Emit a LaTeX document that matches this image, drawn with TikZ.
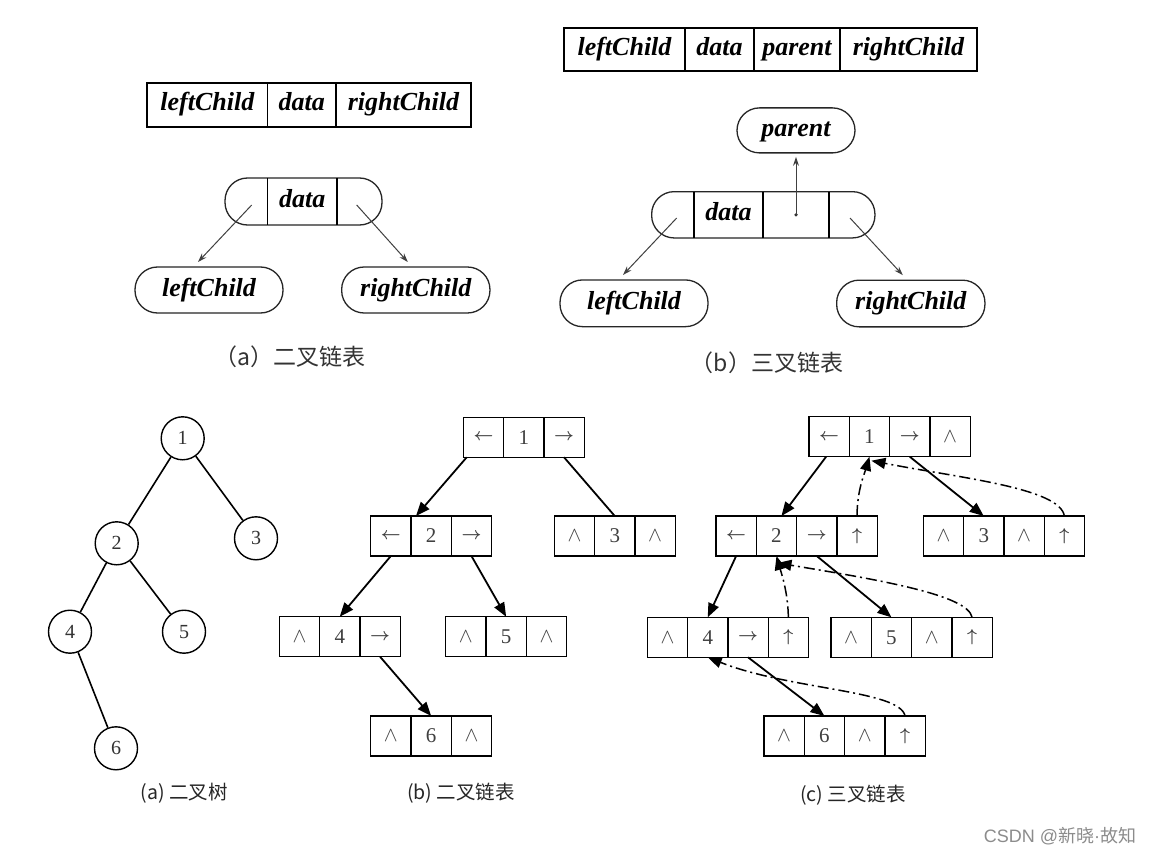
\documentclass[tikz,border=0pt]{standalone}
\usepackage{fontspec}
\setmainfont{Liberation Serif}
\newfontfamily\cjk{Noto Sans CJK SC}
\newfontfamily\wmsans{Liberation Sans}
\usetikzlibrary{arrows.meta,calc}
\newcommand\myL{{\fontsize{17.28}{17.28}\selectfont\boldmath$\leftarrow$}}
\newcommand\myR{{\fontsize{17.28}{17.28}\selectfont\boldmath$\rightarrow$}}
\newcommand\myN{$\wedge$}
\newcommand\myU{{\fontsize{17.28}{17.28}\selectfont\boldmath$\uparrow$}}
\newcommand\recIII[6]{%
  \node[cell,anchor=north west] (#1a) at (#2,#3) {#4};
  \node[cell,anchor=west] (#1b) at (#1a.east) {#5};
  \node[cell,anchor=west] (#1c) at (#1b.east) {#6};}
\newcommand\recIV[7]{%
  \node[cell,anchor=north west] (#1a) at (#2,#3) {#4};
  \node[cell,anchor=west] (#1b) at (#1a.east) {#5};
  \node[cell,anchor=west] (#1c) at (#1b.east) {#6};
  \node[cell,anchor=west] (#1d) at (#1c.east) {#7};}
\begin{document}
\begin{tikzpicture}[x=1pt,y=-1pt,
  lbl/.style={font=\fontsize{26}{28}\selectfont\bfseries\itshape, text height=18pt, text depth=6pt},
  rcell/.style={draw=black, line width=1.3pt, inner sep=0pt, outer sep=0pt, minimum height=44pt, lbl},
  pill/.style={draw=black!85, line width=1.3pt, rounded corners=22.5pt, inner sep=0pt, outer sep=0pt, lbl},
  plaincell/.style={inner sep=0pt, outer sep=0pt, lbl},
  tarr/.style={draw=black!75, line width=1pt, -{Stealth[length=9pt,width=6pt]}},
  cell/.style={draw, line width=1.4pt, minimum width=40.3pt, minimum height=40pt, inner sep=0pt, outer sep=0pt, font=\fontsize{21}{21}\selectfont, text=black!75},
  tnode/.style={circle, draw, line width=1.4pt, minimum size=43pt, inner sep=0pt, font=\fontsize{20}{20}\selectfont, text=black!80},
  tedge/.style={line width=1.6pt},
  ledge/.style={line width=1.8pt},
  parr/.style={line width=1.8pt, -{Triangle[length=14pt,width=11pt]}},
  darr/.style={line width=1.5pt, dash pattern=on 11pt off 4pt on 2pt off 4pt, -{Triangle[length=14pt,width=11pt]}},
  captop/.style={font=\cjk\fontsize{23}{23}\selectfont, text=black!80},
  capbot/.style={font=\cjk\fontsize{19.5}{19.5}\selectfont, text=black!85},
  shadowline/.style={line width=2.4pt}
]
\useasboundingbox (0,0) rectangle (1149,856);
\fill[white] (0,0) rectangle (1149,856);

% ---------- top (a) ----------
\node[rcell, minimum width=120.7pt, anchor=north west] (ra1) at (147,83) {leftChild};
\node[rcell, minimum width=68.3pt, anchor=west] (ra2) at (ra1.east) {data};
\node[rcell, minimum width=135pt, anchor=west] (ra3) at (ra2.east) {rightChild};
\draw[shadowline] (ra1.south west) -- (ra3.south east) -- (ra3.north east);

\node[pill, minimum width=157pt, minimum height=47pt] (pa) at (303.5,201.5) {};
\node[plaincell, minimum width=69.3pt, minimum height=47pt] (pad) at (302.35,201.5) {data};
\draw[line width=1.3pt] (pad.north west) -- (pad.south west) (pad.north east) -- (pad.south east);

\node[pill, minimum width=148pt, minimum height=46pt] (lca) at (209,290) {leftChild};
\node[pill, minimum width=148.3pt, minimum height=46pt] (rca) at (415.8,290) {rightChild};
\coordinate (aLs) at (251.7,205);
\coordinate (aRs) at (356.7,205);
\draw[tarr] (aLs) -- ($(lca.north)+(-11,-5)$);
\draw[tarr] (aRs) -- ($(rca.north)+(-8,-5)$);
\node[captop] (capa) at (290,357) {（a）二叉链表};

% ---------- top (b) ----------
\node[rcell, minimum width=121pt, minimum height=43pt, anchor=north west] (rb1) at (564,28) {leftChild};
\node[rcell, minimum width=69pt, minimum height=43pt, anchor=west] (rb2) at (rb1.east) {data};
\node[rcell, minimum width=86pt, minimum height=43pt, anchor=west] (rb3) at (rb2.east) {parent};
\node[rcell, minimum width=137pt, minimum height=43pt, anchor=west] (rb4) at (rb3.east) {rightChild};
\draw[shadowline] (rb1.south west) -- (rb4.south east) -- (rb4.north east);

\node[pill, minimum width=118pt, minimum height=45pt] (pp) at (796,130.4) {parent};
\node[pill, minimum width=223.3pt, minimum height=46.3pt] (pb) at (763.3,214.8) {};
\node[plaincell, minimum width=69pt, minimum height=46.3pt] (pbd) at (728.5,214.8) {data};
\node[plaincell, minimum width=66pt, minimum height=46.3pt] (pbp) at (796,214.8) {};
\draw[line width=1.3pt] (pbd.north west) -- (pbd.south west) (pbd.north east) -- (pbd.south east)
  (pbp.north east) -- (pbp.south east);
\fill[black!80] (pbp.center) circle (1.8pt);
\draw[tarr] (pbp.center) -- ($(pp.south)+(0,4)$);

\node[pill, minimum width=148pt, minimum height=46.7pt] (lcb) at (634,303.3) {leftChild};
\node[pill, minimum width=148.3pt, minimum height=46.7pt] (rcb) at (910.8,303.5) {rightChild};
\coordinate (bLs) at (676.7,218);
\coordinate (bRs) at (850,218);
\draw[tarr] (bLs) -- ($(lcb.north)+(-11,-5)$);
\draw[tarr] (bRs) -- ($(rcb.north)+(-8,-5)$);
\node[captop] (capb) at (767,363) {（b）三叉链表};

% ---------- bottom (a) tree ----------
\node[tnode] (t1) at (182.7,438.3) {1};
\node[tnode] (t2) at (116.7,543.3) {2};
\node[tnode] (t3) at (256,538.3) {3};
\node[tnode] (t4) at (70,631.7) {4};
\node[tnode] (t5) at (184,631.7) {5};
\node[tnode] (t6) at (116,748.3) {6};
\draw[tedge] (t1) -- (t2) (t1) -- (t3) (t2) -- (t4) (t2) -- (t5) (t4) -- (t6);
\node[capbot] (cap1) at (184,793) {(a) 二叉树};

% ---------- bottom (b) binary linked list ----------
\recIII{b1}{463.3}{417.3}{\myL}{1}{\myR}
\recIII{b2}{370.7}{516}{\myL}{2}{\myR}
\recIII{b3}{554.3}{516}{\myN}{3}{\myN}
\recIII{b4}{279.3}{616.7}{\myN}{4}{\myR}
\recIII{b5}{445.7}{616.7}{\myN}{5}{\myN}
\recIII{b6}{370.7}{716}{\myN}{6}{\myN}
\draw[parr] ($(b1a.south west)+(3.4,0)$) -- ($(b2b.north west)+(5,0)$);
\draw[ledge] (b1c.south) -- (b3b.north);
\draw[parr] (b2a.south) -- (b4b.north);
\draw[parr] (b2c.south) -- (b5b.north);
\draw[parr] (b4c.south) -- (b6b.north);
\node[capbot] (cap2) at (461,793) {(b) 二叉链表};

% ---------- bottom (c) triple linked list ----------
\recIV{c1}{809}{416.7}{\myL}{1}{\myR}{\myN}
\recIV{c2}{716}{516}{\myL}{2}{\myR}{\myU}
\recIV{c3}{923.3}{516}{\myN}{3}{\myN}{\myU}
\recIV{c4}{647.3}{617.3}{\myN}{4}{\myR}{\myU}
\recIV{c5}{831}{617.3}{\myN}{5}{\myN}{\myU}
\recIV{c6}{764}{716}{\myN}{6}{\myN}{\myU}
\draw[parr] ($(c1a.south)+(-3,0)$) -- ($(c2b.north)+(5,0)$);
\draw[parr] (c1c.south) -- (c3b.north);
\draw[parr] (c2a.south) -- (c4b.north);
\draw[parr] (c2c.south) -- (c5b.north);
\draw[parr] (c4c.south) -- (c6b.north);
\draw[darr] (c2d.north) .. controls (857,490) and (865,472) .. (c1b.south);
\draw[darr] (c3d.north) .. controls (1060,488) and (960,478) .. ($(c1b.south)+(2,4)$);
\draw[darr] (c4d.north) .. controls (788,592) and (781,572) .. (c2b.south);
\draw[darr] (c5d.north) .. controls (968,595) and (880,580) .. ($(c2b.south)+(1,7)$);
\draw[darr] (c6d.north) .. controls (900,690) and (790,690) .. (c4b.south);
\node[capbot] (cap3) at (853,795) {(c) 三叉链表};

% watermark
\node[font=\fontsize{18}{18}\selectfont, text=black!45] (wm) at (1060,836) {\wmsans CSDN @\cjk 新晓\wmsans ·\cjk 故知};
\end{tikzpicture}
\end{document}
